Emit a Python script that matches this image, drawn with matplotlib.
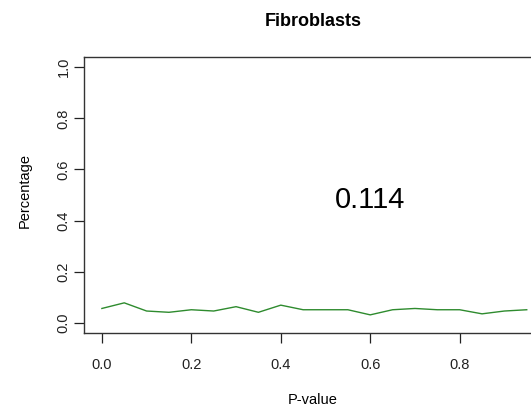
import numpy as np
import matplotlib
matplotlib.use("Agg")
import matplotlib.pyplot as plt

plt.rcParams['font.family'] = ['Liberation Sans', 'DejaVu Sans']

# p-value bins and fraction of genes in each bin
pvals = [0.00, 0.05, 0.10, 0.15, 0.20, 0.25, 0.30, 0.35, 0.40, 0.45,
         0.50, 0.55, 0.60, 0.65, 0.70, 0.75, 0.80, 0.85, 0.90, 0.95]
perc = [0.056, 0.078, 0.046, 0.041, 0.051, 0.046, 0.063, 0.041, 0.069, 0.051,
        0.051, 0.051, 0.031, 0.051, 0.056, 0.051, 0.051, 0.035, 0.046, 0.051]
xticks = [0.0, 0.2, 0.4, 0.6, 0.8]
yticks = [0.0, 0.2, 0.4, 0.6, 0.8, 1.0]
title = "Fibroblasts"
score = "0.114"

W, H = 531, 409
fig = plt.figure(figsize=(W / 100, H / 100), dpi=100)
ax = fig.add_axes([84 / W, 1 - 333 / H, (567 - 84) / W, (333 - 57) / H])

ax.plot(pvals, perc, color="#2e8b2e", lw=1.0)
ax.text(0.6, 0.48, score, fontsize=21, ha="center", va="center")

ax.set_xlim(-0.04, 1.04)
ax.set_ylim(-0.04, 1.04)
ax.set_xticks(xticks)
ax.set_xticklabels(["%.1f" % v for v in xticks])
ax.set_yticks(yticks)
ax.set_yticklabels(["%.1f" % v for v in yticks], rotation=90, va="center")
ax.tick_params(axis="x", direction="out", length=7, width=0.9, pad=11, labelsize=10.5, colors="#222222")
ax.tick_params(axis="y", direction="out", length=7.5, width=0.9, pad=2, labelsize=10.5, colors="#222222")
for s in ax.spines.values():
    s.set_linewidth(1.0)
    s.set_color("#333333")

fig.text(313 / W, 1 - 22 / H, title, fontsize=13, fontweight="bold", ha="center", va="center")
fig.text(313 / W, 1 - 400 / H, "P-value", fontsize=10.5, ha="center", va="center")
fig.text(25 / W, 1 - 191 / H, "Percentage", fontsize=10.5, rotation=90, ha="center", va="center")

fig.savefig("out.png", dpi=100)
